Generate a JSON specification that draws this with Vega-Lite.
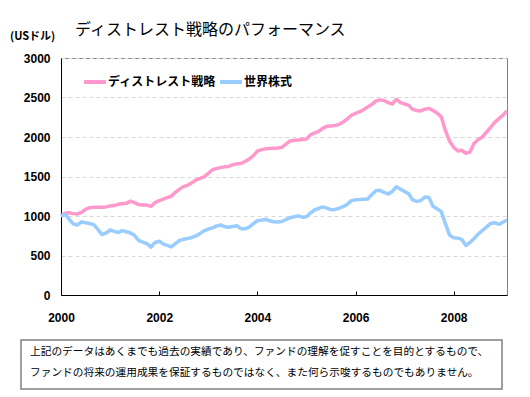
{
  "$schema": "https://vega.github.io/schema/vega-lite/v6.json",
  "padding": {"left": 10, "top": 21, "right": 0, "bottom": 0},
  "background": "white",
  "spacing": 15,
  "title": {
    "text": "(USドル)",
    "anchor": "start",
    "frame": "group",
    "dx": -11,
    "offset": -20,
    "fontSize": 11,
    "font": "Noto Sans CJK JP",
    "fontWeight": "bold",
    "color": "#000000"
  },
  "config": {
    "view": {"stroke": "#808080", "strokeWidth": 1},
    "font": "Noto Sans CJK JP"
  },
  "vconcat": [
    {
      "spacing": 0,
      "hconcat": [
        {
          "width": 1,
          "height": 237,
          "view": {"stroke": null},
          "data": {"values": []},
          "mark": {"type": "text"},
          "encoding": {}
        },
        {
          "width": 446,
          "height": 237,
          "title": {
            "text": "ディストレスト戦略のパフォーマンス",
            "anchor": "start",
            "frame": "group",
            "dx": 14,
            "offset": 14,
            "fontSize": 16,
            "font": "Noto Sans CJK JP",
            "fontWeight": "normal",
            "color": "#000000"
          },
          "data": {
            "values": [
              {"date": "2000-01", "ディストレスト戦略": 1000, "世界株式": 1000},
              {"date": "2000-02", "ディストレスト戦略": 1035, "世界株式": 1020},
              {"date": "2000-03", "ディストレスト戦略": 1040, "世界株式": 960},
              {"date": "2000-04", "ディストレスト戦略": 1030, "世界株式": 900},
              {"date": "2000-05", "ディストレスト戦略": 1025, "世界株式": 885},
              {"date": "2000-06", "ディストレスト戦略": 1045, "世界株式": 925},
              {"date": "2000-07", "ディストレスト戦略": 1085, "世界株式": 915},
              {"date": "2000-08", "ディストレスト戦略": 1105, "世界株式": 905},
              {"date": "2000-09", "ディストレスト戦略": 1110, "世界株式": 890},
              {"date": "2000-10", "ディストレスト戦略": 1110, "世界株式": 830},
              {"date": "2000-11", "ディストレスト戦略": 1110, "世界株式": 765},
              {"date": "2000-12", "ディストレスト戦略": 1115, "世界株式": 785},
              {"date": "2001-01", "ディストレスト戦略": 1128, "世界株式": 823},
              {"date": "2001-02", "ディストレスト戦略": 1132, "世界株式": 805},
              {"date": "2001-03", "ディストレスト戦略": 1148, "世界株式": 790},
              {"date": "2001-04", "ディストレスト戦略": 1155, "世界株式": 815},
              {"date": "2001-05", "ディストレスト戦略": 1160, "世界株式": 800},
              {"date": "2001-06", "ディストレスト戦略": 1188, "世界株式": 785},
              {"date": "2001-07", "ディストレスト戦略": 1168, "世界株式": 755},
              {"date": "2001-08", "ディストレスト戦略": 1145, "世界株式": 690},
              {"date": "2001-09", "ディストレスト戦略": 1140, "世界株式": 670},
              {"date": "2001-10", "ディストレスト戦略": 1138, "世界株式": 650},
              {"date": "2001-11", "ディストレスト戦略": 1122, "世界株式": 605},
              {"date": "2001-12", "ディストレスト戦略": 1170, "世界株式": 665},
              {"date": "2002-01", "ディストレスト戦略": 1195, "世界株式": 680},
              {"date": "2002-02", "ディストレスト戦略": 1215, "世界株式": 645},
              {"date": "2002-03", "ディストレスト戦略": 1232, "世界株式": 628},
              {"date": "2002-04", "ディストレスト戦略": 1250, "世界株式": 608},
              {"date": "2002-05", "ディストレスト戦略": 1300, "世界株式": 650},
              {"date": "2002-06", "ディストレスト戦略": 1340, "世界株式": 690},
              {"date": "2002-07", "ディストレスト戦略": 1372, "世界株式": 705},
              {"date": "2002-08", "ディストレスト戦略": 1390, "世界株式": 715},
              {"date": "2002-09", "ディストレスト戦略": 1420, "世界株式": 728},
              {"date": "2002-10", "ディストレスト戦略": 1455, "世界株式": 748},
              {"date": "2002-11", "ディストレスト戦略": 1475, "世界株式": 780},
              {"date": "2002-12", "ディストレスト戦略": 1495, "世界株式": 812},
              {"date": "2003-01", "ディストレスト戦略": 1540, "世界株式": 835},
              {"date": "2003-02", "ディストレスト戦略": 1585, "世界株式": 850},
              {"date": "2003-03", "ディストレスト戦略": 1600, "世界株式": 872},
              {"date": "2003-04", "ディストレスト戦略": 1612, "世界株式": 886},
              {"date": "2003-05", "ディストレスト戦略": 1622, "世界株式": 868},
              {"date": "2003-06", "ディストレスト戦略": 1628, "世界株式": 858},
              {"date": "2003-07", "ディストレスト戦略": 1648, "世界株式": 868},
              {"date": "2003-08", "ディストレスト戦略": 1660, "世界株式": 876},
              {"date": "2003-09", "ディストレスト戦略": 1665, "世界株式": 840},
              {"date": "2003-10", "ディストレスト戦略": 1690, "世界株式": 838},
              {"date": "2003-11", "ディストレスト戦略": 1720, "世界株式": 858},
              {"date": "2003-12", "ディストレスト戦略": 1760, "世界株式": 900},
              {"date": "2004-01", "ディストレスト戦略": 1820, "世界株式": 940},
              {"date": "2004-02", "ディストレスト戦略": 1840, "世界株式": 948},
              {"date": "2004-03", "ディストレスト戦略": 1850, "世界株式": 958},
              {"date": "2004-04", "ディストレスト戦略": 1855, "世界株式": 940},
              {"date": "2004-05", "ディストレスト戦略": 1858, "世界株式": 928},
              {"date": "2004-06", "ディストレスト戦略": 1860, "世界株式": 925},
              {"date": "2004-07", "ディストレスト戦略": 1870, "世界株式": 930},
              {"date": "2004-08", "ディストレスト戦略": 1910, "世界株式": 955},
              {"date": "2004-09", "ディストレスト戦略": 1950, "世界株式": 978},
              {"date": "2004-10", "ディストレスト戦略": 1960, "世界株式": 990},
              {"date": "2004-11", "ディストレスト戦略": 1962, "世界株式": 1002},
              {"date": "2004-12", "ディストレスト戦略": 1968, "世界株式": 985},
              {"date": "2005-01", "ディストレスト戦略": 1975, "世界株式": 990},
              {"date": "2005-02", "ディストレスト戦略": 2030, "世界株式": 1040},
              {"date": "2005-03", "ディストレスト戦略": 2050, "世界株式": 1076},
              {"date": "2005-04", "ディストレスト戦略": 2070, "世界株式": 1095},
              {"date": "2005-05", "ディストレスト戦略": 2110, "世界株式": 1115},
              {"date": "2005-06", "ディストレスト戦略": 2135, "世界株式": 1100},
              {"date": "2005-07", "ディストレスト戦略": 2140, "世界株式": 1080},
              {"date": "2005-08", "ディストレスト戦略": 2145, "世界株式": 1082},
              {"date": "2005-09", "ディストレスト戦略": 2160, "世界株式": 1100},
              {"date": "2005-10", "ディストレスト戦略": 2190, "世界株式": 1118},
              {"date": "2005-11", "ディストレスト戦略": 2230, "世界株式": 1150},
              {"date": "2005-12", "ディストレスト戦略": 2275, "世界株式": 1195},
              {"date": "2006-01", "ディストレスト戦略": 2300, "世界株式": 1205},
              {"date": "2006-02", "ディストレスト戦略": 2320, "世界株式": 1208},
              {"date": "2006-03", "ディストレスト戦略": 2345, "世界株式": 1212},
              {"date": "2006-04", "ディストレスト戦略": 2380, "世界株式": 1215},
              {"date": "2006-05", "ディストレスト戦略": 2410, "世界株式": 1270},
              {"date": "2006-06", "ディストレスト戦略": 2455, "世界株式": 1320},
              {"date": "2006-07", "ディストレスト戦略": 2470, "世界株式": 1325},
              {"date": "2006-08", "ディストレスト戦略": 2462, "世界株式": 1300},
              {"date": "2006-09", "ディストレスト戦略": 2435, "世界株式": 1280},
              {"date": "2006-10", "ディストレスト戦略": 2418, "世界株式": 1310},
              {"date": "2006-11", "ディストレスト戦略": 2478, "世界株式": 1370},
              {"date": "2006-12", "ディストレスト戦略": 2435, "世界株式": 1340},
              {"date": "2007-01", "ディストレスト戦略": 2418, "世界株式": 1310},
              {"date": "2007-02", "ディストレスト戦略": 2400, "世界株式": 1280},
              {"date": "2007-03", "ディストレスト戦略": 2350, "世界株式": 1205},
              {"date": "2007-04", "ディストレスト戦略": 2335, "世界株式": 1185},
              {"date": "2007-05", "ディストレスト戦略": 2330, "世界株式": 1195},
              {"date": "2007-06", "ディストレスト戦略": 2352, "世界株式": 1240},
              {"date": "2007-07", "ディストレスト戦略": 2362, "世界株式": 1235},
              {"date": "2007-08", "ディストレスト戦略": 2335, "世界株式": 1120},
              {"date": "2007-09", "ディストレスト戦略": 2300, "世界株式": 1090},
              {"date": "2007-10", "ディストレスト戦略": 2255, "世界株式": 1055},
              {"date": "2007-11", "ディストレスト戦略": 2080, "世界株式": 900},
              {"date": "2007-12", "ディストレスト戦略": 1950, "世界株式": 760},
              {"date": "2008-01", "ディストレスト戦略": 1870, "世界株式": 725},
              {"date": "2008-02", "ディストレスト戦略": 1822, "世界株式": 720},
              {"date": "2008-03", "ディストレスト戦略": 1832, "世界株式": 705},
              {"date": "2008-04", "ディストレスト戦略": 1795, "世界株式": 625},
              {"date": "2008-05", "ディストレスト戦略": 1808, "世界株式": 665},
              {"date": "2008-06", "ディストレスト戦略": 1920, "世界株式": 715},
              {"date": "2008-07", "ディストレスト戦略": 1965, "世界株式": 770},
              {"date": "2008-08", "ディストレスト戦略": 2000, "世界株式": 815},
              {"date": "2008-09", "ディストレスト戦略": 2060, "世界株式": 860},
              {"date": "2008-10", "ディストレスト戦略": 2120, "世界株式": 905},
              {"date": "2008-11", "ディストレスト戦略": 2185, "世界株式": 915},
              {"date": "2008-12", "ディストレスト戦略": 2230, "世界株式": 895},
              {"date": "2009-01", "ディストレスト戦略": 2275, "世界株式": 920},
              {"date": "2009-02", "ディストレスト戦略": 2330, "世界株式": 950}
            ]
          },
          "transform": [
            {"fold": ["ディストレスト戦略", "世界株式"], "as": ["series", "value"]}
          ],
          "mark": {"type": "line", "strokeWidth": 3.5, "strokeJoin": "round"},
          "encoding": {
            "x": {
              "field": "date",
              "type": "temporal",
              "scale": {"type": "utc", "domain": ["2000-01", "2009-02"]},
              "axis": {
                "title": null,
                "format": "%Y",
                "tickCount": {"interval": "year", "step": 2},
                "labelFlush": false,
                "labelFont": "Liberation Sans",
                "labelFontWeight": "bold",
                "labelFontSize": 12,
                "labelColor": "#000000",
                "labelPadding": 21,
                "tickSize": -4,
                "tickColor": "#000000",
                "domainColor": "#000000",
                "domainWidth": 1,
                "grid": false
              }
            },
            "y": {
              "field": "value",
              "type": "quantitative",
              "scale": {"domain": [0, 3000], "nice": false},
              "axis": {
                "values": [0, 500, 1000, 1500, 2000, 2500, 3000],
                "format": "d",
                "grid": true,
                "gridDash": [4, 3],
                "gridColor": "#d9d9d9",
                "ticks": false,
                "domainColor": "#000000",
                "labelFont": "Liberation Sans",
                "labelFontWeight": "bold",
                "labelFontSize": 12,
                "labelColor": "#000000",
                "labelPadding": 11,
                "title": null
              }
            },
            "color": {
              "field": "series",
              "type": "nominal",
              "scale": {"domain": ["ディストレスト戦略", "世界株式"], "range": ["#ff99cc", "#99ccff"]},
              "legend": {
                "title": null,
                "orient": "none",
                "legendX": 61,
                "legendY": 11,
                "direction": "horizontal",
                "symbolType": "stroke",
                "symbolSize": 484,
                "symbolStrokeWidth": 4,
                "labelFont": "Noto Sans CJK JP",
                "labelFontSize": 12,
                "labelFontWeight": "bold",
                "labelColor": "#000000",
                "labelOffset": 0,
                "columnPadding": -5
              }
            }
          }
        }
      ]
    },
    {
      "width": 481,
      "height": 49,
      "view": {"stroke": "#808080", "strokeWidth": 1.5},
      "data": {
        "values": [
          {"line": 1, "text": "上記のデータはあくまでも過去の実績であり、ファンドの理解を促すことを目的とするもので、"},
          {"line": 2, "text": "ファンドの将来の運用成果を保証するものではなく、また何ら示唆するものでもありません。"}
        ]
      },
      "mark": {"type": "text", "align": "left", "baseline": "middle", "dx": 9, "dy": -2, "font": "Noto Sans CJK JP", "fontSize": 10.7, "color": "#000000"},
      "encoding": {
        "x": {"datum": 0, "type": "quantitative", "scale": {"domain": [0, 1]}, "axis": null},
        "y": {"field": "line", "type": "ordinal", "axis": null, "scale": {"padding": 0.614}},
        "text": {"field": "text"}
      }
    }
  ]
}
